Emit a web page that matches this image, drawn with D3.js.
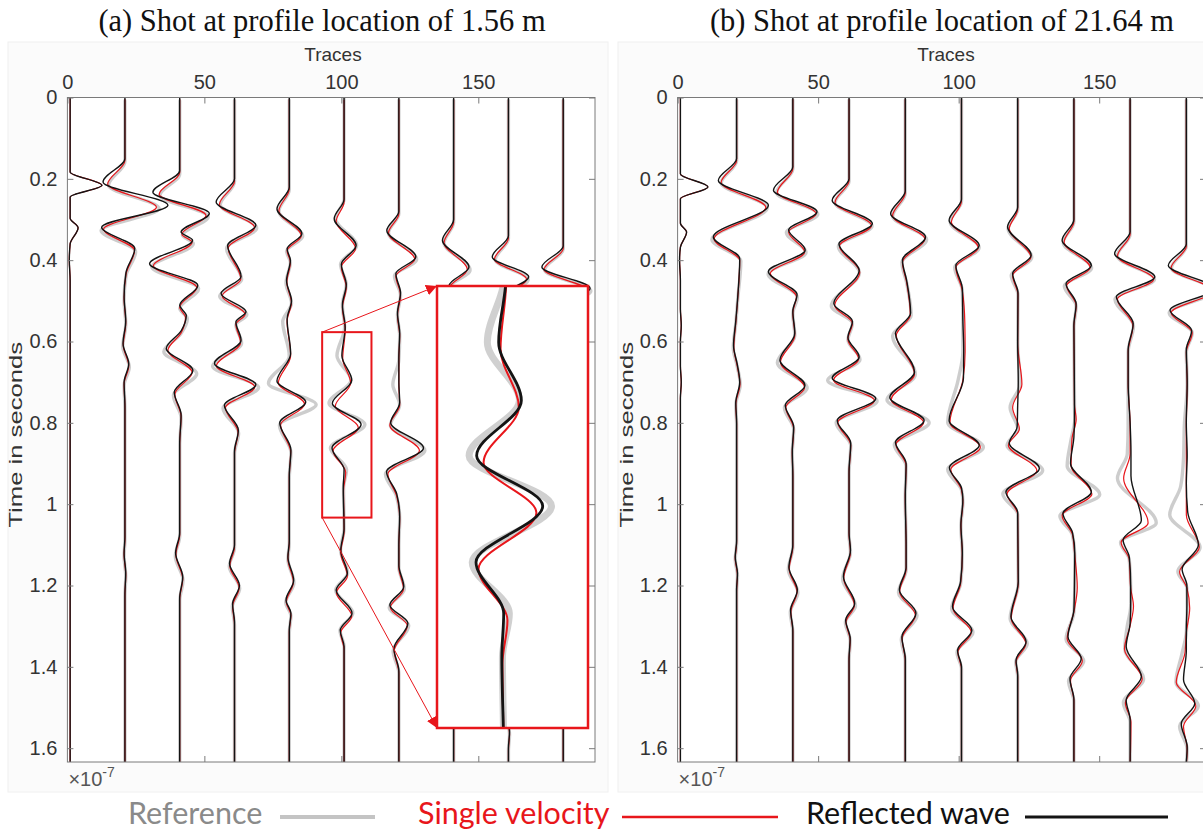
<!DOCTYPE html>
<html>
<head>
<meta charset="utf-8">
<script src="https://cdn.jsdelivr.net/npm/d3@7"></script>
<style>
  html, body { margin: 0; padding: 0; background: #ffffff; }
  svg { display: block; }
</style>
</head>
<body>
<svg id="fig" width="1203" height="832"></svg>
<script>
// ---------------------------------------------------------------
// Shot gathers: one wiggle trace every 20 receivers.
// Each trace is a list of rows [time, reflected wave, single velocity, reference]
// where the three amplitudes are the deflection (in trace units) at that time.
// ---------------------------------------------------------------
const traceNumbers = [1, 21, 41, 61, 81, 101, 121, 141, 161, 181];
const xTickValues = [0, 50, 100, 150];
const yTickValues = [0, 0.2, 0.4, 0.6, 0.8, 1, 1.2, 1.4, 1.6];
const yTickLabels = ["0", "0.2", "0.4", "0.6", "0.8", "1", "1.2", "1.4", "1.6"];
const seriesNames = ["Reference", "Single velocity", "Reflected wave"];
const panelTitles = ["(a) Shot at profile location of 1.56 m", "(b) Shot at profile location of 21.64 m"];

// shot (a), profile location 1.56 m
const shotA = [
  [[0,0,0,null],[0.183,0,0,null],[0.216,11.6,11.6,null],[0.245,0,0,null],[0.297,0,0,null],[0.32,2.9,2.9,null],[0.36,0,0,null],[0.40,-0.3,-0.3,null],[0.45,0,0,null],[1.634,0,0,null]],
  [[0,0,0,0],[0.15,0,0,0],[0.208,-8,-6.3,-6],[0.265,15.7,11.5,12.5],[0.319,-8.5,-7.8,-8.7],[0.371,3.6,3.5,3.9],[0.43,0.4,0.4,0.4],[0.49,-0.3,-0.3,-0.3],[0.55,0.3,0.3,0.3],[0.605,-0.7,-0.6,-0.8],[0.655,1.4,1.4,1.6],[0.70,-0.3,-0.3,-0.3],[0.76,0,0,0],[1.08,0,0,0],[1.12,-0.3,-0.3,-0.3],[1.17,0.3,0.3,0.3],[1.22,0,0,0],[1.634,0,0,0]],
  [[0,0,0,0],[0.18,0,0,0],[0.233,-9.8,-7.5,-7.2],[0.285,10.8,9.6,10.4],[0.331,0.5,0.8,1.0],[0.351,4.7,4.5,5.0],[0.409,-11,-9.6,-10.2],[0.462,6.6,6.2,6.9],[0.511,0,0,0],[0.536,2.4,2.1,2.8],[0.573,0.6,0.6,0.4],[0.617,-4.9,-4.3,-5.8],[0.671,4.8,4.5,6.2],[0.725,-2,-1.8,-2.3],[0.78,0.5,0.5,0.5],[0.85,0,0,0],[1.07,0,0,0],[1.12,-1.5,-1.4,-1.6],[1.179,1.1,1.1,1.2],[1.23,0,0,0],[1.634,0,0,0]],
  [[0,0,0,0],[0.2,0,0,0],[0.257,-6.7,-5.5,-5.2],[0.314,7.8,7.3,8.1],[0.364,-2.5,-2.3,-2.9],[0.44,2.4,2.3,2.6],[0.482,-4.9,-4.5,-5.4],[0.527,4.2,3.9,4.5],[0.552,0.5,0.5,0.5],[0.597,2.4,2.2,2.6],[0.654,-7.3,-6.6,-8],[0.706,7.8,7.4,8.8],[0.757,-3.7,-3.3,-4.2],[0.818,1.4,1.3,1.5],[0.87,0,0,0],[1.10,0,0,0],[1.146,-1.8,-1.7,-1.9],[1.2,1.8,1.7,1.9],[1.245,-0.7,-0.7,-0.8],[1.29,0,0,0],[1.634,0,0,0]],
  [[0,0,0,0],[0.22,0,0,0],[0.274,-4.5,-3.8,-3.8],[0.335,4.6,4.4,4.9],[0.372,-0.8,-0.8,-1.0],[0.40,0.4,0.4,0.4],[0.45,-1.0,-0.9,-1.2],[0.50,0.8,0.8,0.8],[0.545,-0.8,-0.8,-2.4],[0.63,0.5,0.5,0],[0.697,-4.5,-4,-7.6],[0.749,6,5.6,9.8],[0.80,-3.5,-3.2,-3.6],[0.867,0.6,0.5,0.6],[0.93,0,0,0],[1.09,0,0,0],[1.13,-0.5,-0.5,-0.5],[1.187,1.6,1.5,1.7],[1.236,-1.2,-1.1,-1.3],[1.268,0.6,0.6,0.6],[1.31,0,0,0],[1.634,0,0,0]],
  [[0,0,0,0],[0.25,0,0,0],[0.298,-3.6,-2.9,-3.1],[0.364,4.4,4.2,4.6],[0.41,-1,-1,-1.3],[0.46,0.8,0.8,0.8],[0.51,-0.6,-0.6,-0.6],[0.565,0.4,0.4,0.2],[0.635,-0.8,-0.5,-2.6],[0.695,2.8,2.4,2.5],[0.752,-4.3,-3.2,-5.5],[0.804,6.2,5.2,7.6],[0.862,-4.4,-4,-5],[0.915,0,0.6,0.9],[0.96,-0.3,-0.2,-0.2],[1.06,0,0,0],[1.113,-1.2,-1.2,-1.3],[1.17,1.2,1.2,1.3],[1.211,-2.9,-2.8,-3.1],[1.268,2.9,2.8,3.2],[1.31,-1.4,-1.3,-1.5],[1.35,0,0,0],[1.634,0,0,0]],
  [[0,0,0,0],[0.28,0,0,0],[0.327,-4.4,-3.8,-3.8],[0.392,6.2,5.8,6.5],[0.433,-1.1,-1.1,-1.6],[0.48,0.6,0.6,0.6],[0.53,-0.5,-0.5,-0.5],[0.58,0.3,0.3,0.3],[0.64,0,0,0],[0.70,0,0,-2.2],[0.75,0.3,0.3,0.3],[0.80,-3,-3.3,-3.1],[0.862,9,7.5,9.5],[0.92,-4.5,-4,-4.9],[0.974,-0.8,-0.8,-0.9],[1.03,0.3,0.3,0.3],[1.10,0,0,0],[1.15,0,0,0],[1.203,1.8,1.7,2],[1.248,-3.3,-3.1,-3.5],[1.293,3.3,3.1,3.6],[1.355,-1.8,-1.7,-2.1],[1.41,0,0,0],[1.634,0,0,0]],
  [[0,0,0,0],[0.30,0,0,0],[0.351,-4.1,-3.5,-3.5],[0.417,5.6,5,6],[0.462,-1.6,-1.5,-1.8],[0.51,0,0,0],[1.634,0,0,0]],
  [[0,0,0,0],[0.34,0,0,0],[0.392,-5.9,-5.1,-4.8],[0.441,7.4,6.6,7.2],[0.49,-3,-2.8,-3.2],[0.54,0,0,0],[1.53,0,0,0],[1.56,0.4,0.4,0.4],[1.60,0,0,0],[1.634,0,0,0]],
  [[0,0,0,0],[0.365,0,0,0],[0.417,-7.8,-7,-6.8],[0.469,9.8,9.1,10.1],[0.52,-5,-4.6,-5.2],[0.57,0,0,0],[1.634,0,0,0]]
];
// per-trace time lag of the single-velocity and reference traces (shot a)
const singleLagA = [0, 0.005, 0.005, 0.006, 0.005, 0.007, 0.006, 0.006, 0.006, 0.006];
const referenceLagA = [0, 0.008, 0.008, 0.007, 0.006, 0, 0.006, 0.007, 0.007, 0.007];

// shot (b), profile location 21.64 m
const shotB = [
  [[0,0,0,null],[0.188,0,0,null],[0.22,9.8,9.8,null],[0.249,0,0,null],[0.309,0,0,null],[0.331,2.2,2.2,null],[0.368,0,0,null],[0.40,-0.3,-0.3,null],[0.45,0,0,null],[0.52,0,0,null],[0.56,0.3,0.3,null],[0.60,0,0,null],[0.66,0,0,null],[0.70,0.3,0.3,null],[0.74,0,0,null],[1.634,0,0,null]],
  [[0,0,0,0],[0.15,0,0,0],[0.204,-6.5,-5.5,-5.5],[0.265,11.3,10.4,10.9],[0.343,-8.3,-8,-8.8],[0.396,1.1,1.1,1.5],[0.49,0.4,0.4,0.4],[0.55,-0.3,-0.3,-0.3],[0.61,-1.1,-1,-1.2],[0.655,0.2,0.2,0.2],[0.70,1.1,1.2,1.3],[0.75,-0.3,-0.3,-0.3],[0.80,0,0,0],[1.09,0,0,0],[1.13,-0.5,-0.5,-0.5],[1.17,0.3,0.3,0.3],[1.21,0,0,0],[1.634,0,0,0]],
  [[0,0,0,0],[0.17,0,0,0],[0.228,-6.9,-5.5,-5.8],[0.281,8.6,8.3,8.9],[0.326,-1.5,-1.5,-2.3],[0.375,4.4,4.2,4.7],[0.428,-8.7,-8,-8.8],[0.485,1.5,1.3,1.6],[0.525,0,0,0],[0.58,0.7,0.7,0.7],[0.646,-4.6,-4.4,-5.5],[0.708,4.3,4.2,5.1],[0.757,-2.7,-2.5,-3],[0.81,0.3,0.3,0.3],[0.87,-0.2,-0.2,-0.2],[0.93,0,0,0],[1.10,0,0,0],[1.155,-1.4,-1.3,-1.6],[1.211,1.6,1.5,1.8],[1.26,-0.8,-0.7,-0.9],[1.31,0,0,0],[1.634,0,0,0]],
  [[0,0,0,0],[0.2,0,0,0],[0.253,-6,-5,-5],[0.31,8.3,8,8.2],[0.36,-3.6,-3.4,-3.8],[0.425,3.6,3.8,3.7],[0.507,-5.4,-5.1,-6.3],[0.55,1.2,1.2,1.2],[0.59,-0.4,-0.4,-0.4],[0.638,3.6,3.4,3.9],[0.69,-6,-5.5,-7.6],[0.74,9.5,9,10],[0.794,-4.2,-4,-4.6],[0.85,0.6,0.6,0.6],[0.92,0,0,0],[1.07,0,0,0],[1.113,0.5,0.5,0.5],[1.178,-2,-1.9,-2.3],[1.244,2,1.9,2.3],[1.285,-1.2,-1.1,-1.3],[1.33,0.4,0.4,0.4],[1.38,0,0,0],[1.634,0,0,0]],
  [[0,0,0,0],[0.23,0,0,0],[0.286,-5.2,-4.5,-4.5],[0.343,7.2,7,7.6],[0.40,-1,-1,-1.2],[0.45,0.5,0.5,0.5],[0.53,1.9,1.8,2.1],[0.58,-3.5,-3.2,-4.5],[0.675,3.3,3.3,3.6],[0.738,-5.5,-5,-6.5],[0.794,6.7,6.5,8.5],[0.848,-3.5,-3.3,-3.9],[0.90,0.3,0.3,0.3],[0.98,0,0,0],[1.10,0.3,0.3,0.3],[1.155,0.3,0.3,0.3],[1.211,-2.1,-2,-2.4],[1.268,3.8,3.6,4.2],[1.326,-1.2,-1.1,-1.4],[1.38,0,0,0],[1.634,0,0,0]],
  [[0,0,0,0],[0.25,0,0,0],[0.302,-4.4,-3.6,-4],[0.364,6.3,6,6.3],[0.413,-2,-2,-2.4],[0.47,0.3,0.3,0.3],[0.55,0.5,1.2,0.5],[0.62,0.8,1.3,0.5],[0.69,0.7,0.5,-1.2],[0.794,-4.4,-4.1,-4.9],[0.855,6.3,6.7,7.8],[0.91,-4.3,-3.8,-4.9],[0.96,0,0,0],[0.99,0.5,0.5,0.5],[1.05,-0.2,-0.2,-0.2],[1.12,0.3,0.3,0.3],[1.19,-0.3,-0.3,-0.3],[1.252,-3.2,-3,-3.5],[1.31,3.7,3.5,4.1],[1.359,-1.4,-1.3,-1.6],[1.40,0,0,0],[1.634,0,0,0]],
  [[0,0,0,0],[0.27,0,0,0],[0.318,-3.6,-3,-3.4],[0.388,4.8,4.7,5],[0.433,-1.8,-1.8,-2.3],[0.48,0.1,0.1,0.1],[0.60,0,0,0],[0.70,0.2,1.5,0.9],[0.757,0,-1.8,-2.7],[0.81,-0.2,0.6,0],[0.85,-3,-3.3,-3.8],[0.912,7.7,6.8,8.9],[0.97,-4.2,-3.8,-5.3],[1.02,0,0,0],[1.19,0.2,0.2,0.2],[1.277,-2.4,-2.3,-2.7],[1.338,3,2.9,3.4],[1.383,-0.6,-0.6,-0.7],[1.42,0,0,0],[1.634,0,0,0]],
  [[0,0,0,0],[0.30,0,0,0],[0.351,-4.2,-3.5,-3.8],[0.413,6.2,5.8,6.3],[0.458,-2.8,-2.6,-3.4],[0.507,0.8,0.8,0.8],[0.56,0,0,0],[0.75,0.2,0.2,0.2],[0.786,0.2,0.8,0.3],[0.835,0,-0.7,-1],[0.90,-1.2,-1,-2.4],[0.97,6.2,6.4,9.2],[1.023,-3.9,-4.2,-5],[1.07,-0.5,-0.5,-0.5],[1.12,0.3,0.3,0.3],[1.20,0.2,1.2,0.3],[1.26,0,0,0],[1.326,-2.1,-2.4,-2.8],[1.38,2.6,3,3.5],[1.429,-1.4,-1.2,-1.9],[1.48,0,0,0],[1.634,0,0,0]],
  [[0,0,0,0],[0.33,0,0,0],[0.384,-5.5,-4.5,-4.6],[0.441,8.8,8.4,8.7],[0.49,-4.9,-4.5,-5.4],[0.556,1.1,1,1.2],[0.62,-0.7,-0.7,-0.7],[0.70,-0.7,-0.7,-0.7],[0.80,0,0,-0.7],[0.87,0.3,0,-1],[0.93,0.3,-2.3,-4.5],[1.04,4,6.4,9.3],[1.088,-2.5,-3.2,-3.4],[1.13,-0.3,-0.3,-0.3],[1.20,0.2,0.2,0.2],[1.245,0.2,1.2,0.2],[1.293,0,0,-1],[1.35,-1.4,-2,-1.9],[1.424,4,4.3,4.8],[1.482,-1.4,-1.7,-2.4],[1.53,0,0.3,0],[1.634,0,0,0]],
  [[0,0,0,0],[0.36,0,0,0],[0.413,-6.4,-5.4,-5.3],[0.47,10,9.5,10.2],[0.523,-5.8,-5.4,-6.1],[0.573,1.9,2.1,2.1],[0.62,0,0,0],[0.70,0.3,0.3,0.3],[0.80,0,0,-0.7],[0.88,0.3,0,-1],[0.95,0,0,-2],[1.02,0.5,0,-5.9],[1.10,4.3,4.6,4.9],[1.16,-1.5,-2.4,-3],[1.20,0.2,0.2,0.2],[1.25,0.2,1.2,0.3],[1.31,0,0,0],[1.36,0,-0.5,-1.5],[1.432,-1,-3.6,-3.7],[1.49,3,3.4,4.3],[1.54,-1.8,-1,-2.4],[1.597,0.3,0.3,0.3],[1.634,0,0,0]]
];
const singleLagB = [0, 0.005, 0.005, 0.005, 0.005, 0.005, 0.005, 0.005, 0.006, 0.006];
const referenceLagB = [0, 0.006, 0.006, 0.006, 0.006, 0.005, 0.005, 0.006, 0.006, 0.006];

// zoomed window of shot (a): marked trace/time range and the magnified view's limits
const zoomTraces = [93, 111];
const zoomTimes = [0.577, 1.033];
const zoomViewTraces = [90.4, 114.4];
const zoomTraceIndex = 5;   // trace 101

// ---------------------------------------------------------------
const TIME_MAX = 1.634;
const COLORS = { reflected: "#141414", single: "#e8161b", reference: "#c4c4c4" };
const AXIS_COLOR = "#7a7a7a";
const LABEL_COLOR = "#333333";
const TICK_FONT = "'Liberation Sans', Arial, Helvetica, sans-serif";

const svg = d3.select("#fig");

const defs = svg.append("defs");
defs.append("marker")
  .attr("id", "arrowRed")
  .attr("viewBox", "0 0 10 10")
  .attr("refX", 10).attr("refY", 5)
  .attr("markerWidth", 11).attr("markerHeight", 11)
  .attr("markerUnits", "userSpaceOnUse")
  .attr("orient", "auto")
  .append("path").attr("d", "M0,0 L10,5 L0,10 Z").attr("fill", "#e8161b");

const panels = [
  { id: "a", title: panelTitles[0], titleX: 322, labelX: 333, rows: shotA, singleLag: singleLagA, referenceLag: referenceLagA,
    left: 67.4, right: 595, xMax: 192.6, figBox: [8, 42, 600, 750] },
  { id: "b", title: panelTitles[1], titleX: 942, labelX: 946, rows: shotB, singleLag: singleLagB, referenceLag: referenceLagB,
    left: 677.6, right: 1206, xMax: 188, figBox: [618, 42, 600, 750] }
];
const TOP = 97.5, BOTTOM = 762;

// series drawing order: reference below, then single velocity, reflected wave on top
const seriesDefs = [
  { col: 3, lagKey: "referenceLag", color: COLORS.reference, width: 3.4, opacity: 0.85 },
  { col: 2, lagKey: "singleLag", color: COLORS.single, width: 1.2, opacity: 1 },
  { col: 1, lagKey: null, color: COLORS.reflected, width: 1.4, opacity: 1 }
];

function tracePath(x, y, traceNo, rows, col, lag) {
  const pts = rows.filter(r => r[col] !== null).map(r => [x(traceNo + r[col]), y(r[0] + lag)]);
  if (pts.length < 2) return null;
  return d3.line().curve(d3.curveMonotoneY)(pts);
}

panels.forEach(p => {
  const g = svg.append("g").attr("class", "panel-" + p.id);
  const x = d3.scaleLinear().domain([0, p.xMax]).range([p.left, p.right]);
  const y = d3.scaleLinear().domain([0, TIME_MAX]).range([TOP, BOTTOM]);
  p.x = x; p.y = y;

  // figure area
  g.append("rect").attr("x", p.figBox[0]).attr("y", p.figBox[1])
    .attr("width", p.figBox[2]).attr("height", p.figBox[3])
    .attr("fill", "#fbfbfb").attr("stroke", "#f0f0f0");

  // title
  g.append("text").attr("x", p.titleX).attr("y", 31)
    .attr("text-anchor", "middle")
    .attr("font-family", "'Liberation Serif', 'Times New Roman', serif")
    .attr("font-size", 30.5).attr("fill", "#111")
    .text(p.title);

  // axes background
  g.append("rect").attr("x", p.left).attr("y", TOP)
    .attr("width", p.right - p.left).attr("height", BOTTOM - TOP)
    .attr("fill", "#ffffff");

  const clipId = "clip-" + p.id;
  defs.append("clipPath").attr("id", clipId)
    .append("rect").attr("x", p.left).attr("y", TOP)
    .attr("width", p.right - p.left).attr("height", BOTTOM - TOP);

  const traces = g.append("g").attr("clip-path", `url(#${clipId})`);
  seriesDefs.forEach(s => {
    traceNumbers.forEach((tn, i) => {
      const lag = s.lagKey ? p[s.lagKey][i] : 0;
      const d = tracePath(x, y, tn, p.rows[i], s.col, lag);
      if (!d) return;
      traces.append("path").attr("d", d)
        .attr("fill", "none").attr("stroke", s.color)
        .attr("stroke-width", s.width).attr("stroke-opacity", s.opacity)
        .attr("stroke-linejoin", "round").attr("stroke-linecap", "round");
    });
  });

  // axes (ticks point inward, box on)
  const styleAxis = sel => {
    sel.select(".domain").remove();
    sel.selectAll(".tick line").attr("stroke", AXIS_COLOR);
    sel.selectAll(".tick text").attr("fill", LABEL_COLOR)
      .attr("font-family", TICK_FONT).attr("font-size", 20);
  };
  g.append("g").attr("transform", `translate(0,${TOP})`)
    .call(d3.axisTop(x).tickValues(xTickValues).tickSize(-6).tickPadding(9).tickFormat(d3.format("d")))
    .call(styleAxis);
  g.append("g").attr("transform", `translate(0,${BOTTOM})`)
    .call(d3.axisBottom(x).tickValues(xTickValues.slice(1)).tickSize(-6).tickFormat(""))
    .call(styleAxis);
  g.append("g").attr("transform", `translate(${p.left},0)`)
    .call(d3.axisLeft(y).tickValues(yTickValues).tickSize(-6).tickPadding(10)
      .tickFormat((d, i) => yTickLabels[i]))
    .call(styleAxis);
  g.append("g").attr("transform", `translate(${p.right},0)`)
    .call(d3.axisRight(y).tickValues(yTickValues).tickSize(-6).tickFormat(""))
    .call(styleAxis);

  g.append("rect").attr("x", p.left).attr("y", TOP)
    .attr("width", p.right - p.left).attr("height", BOTTOM - TOP)
    .attr("fill", "none").attr("stroke", AXIS_COLOR).attr("stroke-width", 1);

  // axis labels
  g.append("text").attr("x", p.labelX).attr("y", 61)
    .attr("text-anchor", "middle").attr("font-family", TICK_FONT)
    .attr("font-size", 19).attr("fill", LABEL_COLOR).text("Traces");
  g.append("text")
    .attr("transform", `translate(${p.left - 45},${(TOP + BOTTOM) / 2 + 5}) rotate(-90) scale(1.35,1)`)
    .attr("text-anchor", "middle").attr("font-family", TICK_FONT)
    .attr("font-size", 19).attr("fill", LABEL_COLOR).text("Time in seconds");

  const exp = g.append("text").attr("x", p.left + 1).attr("y", 786)
    .attr("font-family", TICK_FONT).attr("font-size", 20).attr("fill", "#555");
  exp.append("tspan").text("\u00d710");
  exp.append("tspan").attr("dy", -9).attr("font-size", 14).text("-7");
});

// ---------------------------------------------------------------
// Magnified view of trace 101 in shot (a)
// ---------------------------------------------------------------
(function drawZoom() {
  const p = panels[0];
  const box = { left: 437, top: 286, right: 588, bottom: 728 };
  const sx0 = p.x(zoomTraces[0]), sx1 = p.x(zoomTraces[1]);
  const sy0 = p.y(zoomTimes[0]), sy1 = p.y(zoomTimes[1]);
  const g = svg.append("g").attr("class", "zoom");

  // marked window
  g.append("rect").attr("x", sx0).attr("y", sy0)
    .attr("width", sx1 - sx0).attr("height", sy1 - sy0)
    .attr("fill", "none").attr("stroke", "#e8161b").attr("stroke-width", 2);

  // leader arrows
  g.append("line").attr("x1", sx0).attr("y1", sy0).attr("x2", box.left).attr("y2", box.top)
    .attr("stroke", "#e8161b").attr("stroke-width", 1).attr("marker-end", "url(#arrowRed)");
  g.append("line").attr("x1", sx0).attr("y1", sy1).attr("x2", box.left).attr("y2", box.bottom)
    .attr("stroke", "#e8161b").attr("stroke-width", 1).attr("marker-end", "url(#arrowRed)");

  g.append("rect").attr("x", box.left).attr("y", box.top)
    .attr("width", box.right - box.left).attr("height", box.bottom - box.top)
    .attr("fill", "#ffffff");

  defs.append("clipPath").attr("id", "clip-zoom")
    .append("rect").attr("x", box.left).attr("y", box.top)
    .attr("width", box.right - box.left).attr("height", box.bottom - box.top);

  const zx = d3.scaleLinear().domain(zoomViewTraces).range([box.left, box.right]);
  const zy = d3.scaleLinear().domain(zoomTimes).range([box.top, box.bottom]);
  const zg = g.append("g").attr("clip-path", "url(#clip-zoom)");
  const zoomStyles = [
    { col: 3, lag: p.referenceLag[zoomTraceIndex], color: COLORS.reference, width: 7, opacity: 0.8 },
    { col: 2, lag: p.singleLag[zoomTraceIndex], color: COLORS.single, width: 2, opacity: 1 },
    { col: 1, lag: 0, color: COLORS.reflected, width: 2.8, opacity: 1 }
  ];
  zoomStyles.forEach(s => {
    const d = tracePath(zx, zy, traceNumbers[zoomTraceIndex], p.rows[zoomTraceIndex], s.col, s.lag);
    zg.append("path").attr("d", d).attr("fill", "none")
      .attr("stroke", s.color).attr("stroke-width", s.width).attr("stroke-opacity", s.opacity)
      .attr("stroke-linejoin", "round");
  });

  g.append("rect").attr("x", box.left).attr("y", box.top)
    .attr("width", box.right - box.left).attr("height", box.bottom - box.top)
    .attr("fill", "none").attr("stroke", "#e8161b").attr("stroke-width", 2.5);
})();

// ---------------------------------------------------------------
// Legend
// ---------------------------------------------------------------
const legendItems = [
  { name: seriesNames[0], textColor: "#8a8a8a", x: 128, line: [280, 375], color: COLORS.reference, width: 4 },
  { name: seriesNames[1], textColor: "#e8161b", x: 418, line: [622, 778], color: COLORS.single, width: 2.5 },
  { name: seriesNames[2], textColor: "#111111", x: 806, line: [1025, 1168], color: COLORS.reflected, width: 3 }
];
const legend = svg.append("g").attr("class", "legend");
legendItems.forEach(it => {
  legend.append("text").attr("x", it.x).attr("y", 824)
    .attr("font-family", "Lato, 'Open Sans', sans-serif").attr("font-size", 30.5)
    .attr("fill", it.textColor).text(it.name);
  legend.append("line").attr("x1", it.line[0]).attr("x2", it.line[1])
    .attr("y1", 817).attr("y2", 817)
    .attr("stroke", it.color).attr("stroke-width", it.width);
});
</script>
</body>
</html>
